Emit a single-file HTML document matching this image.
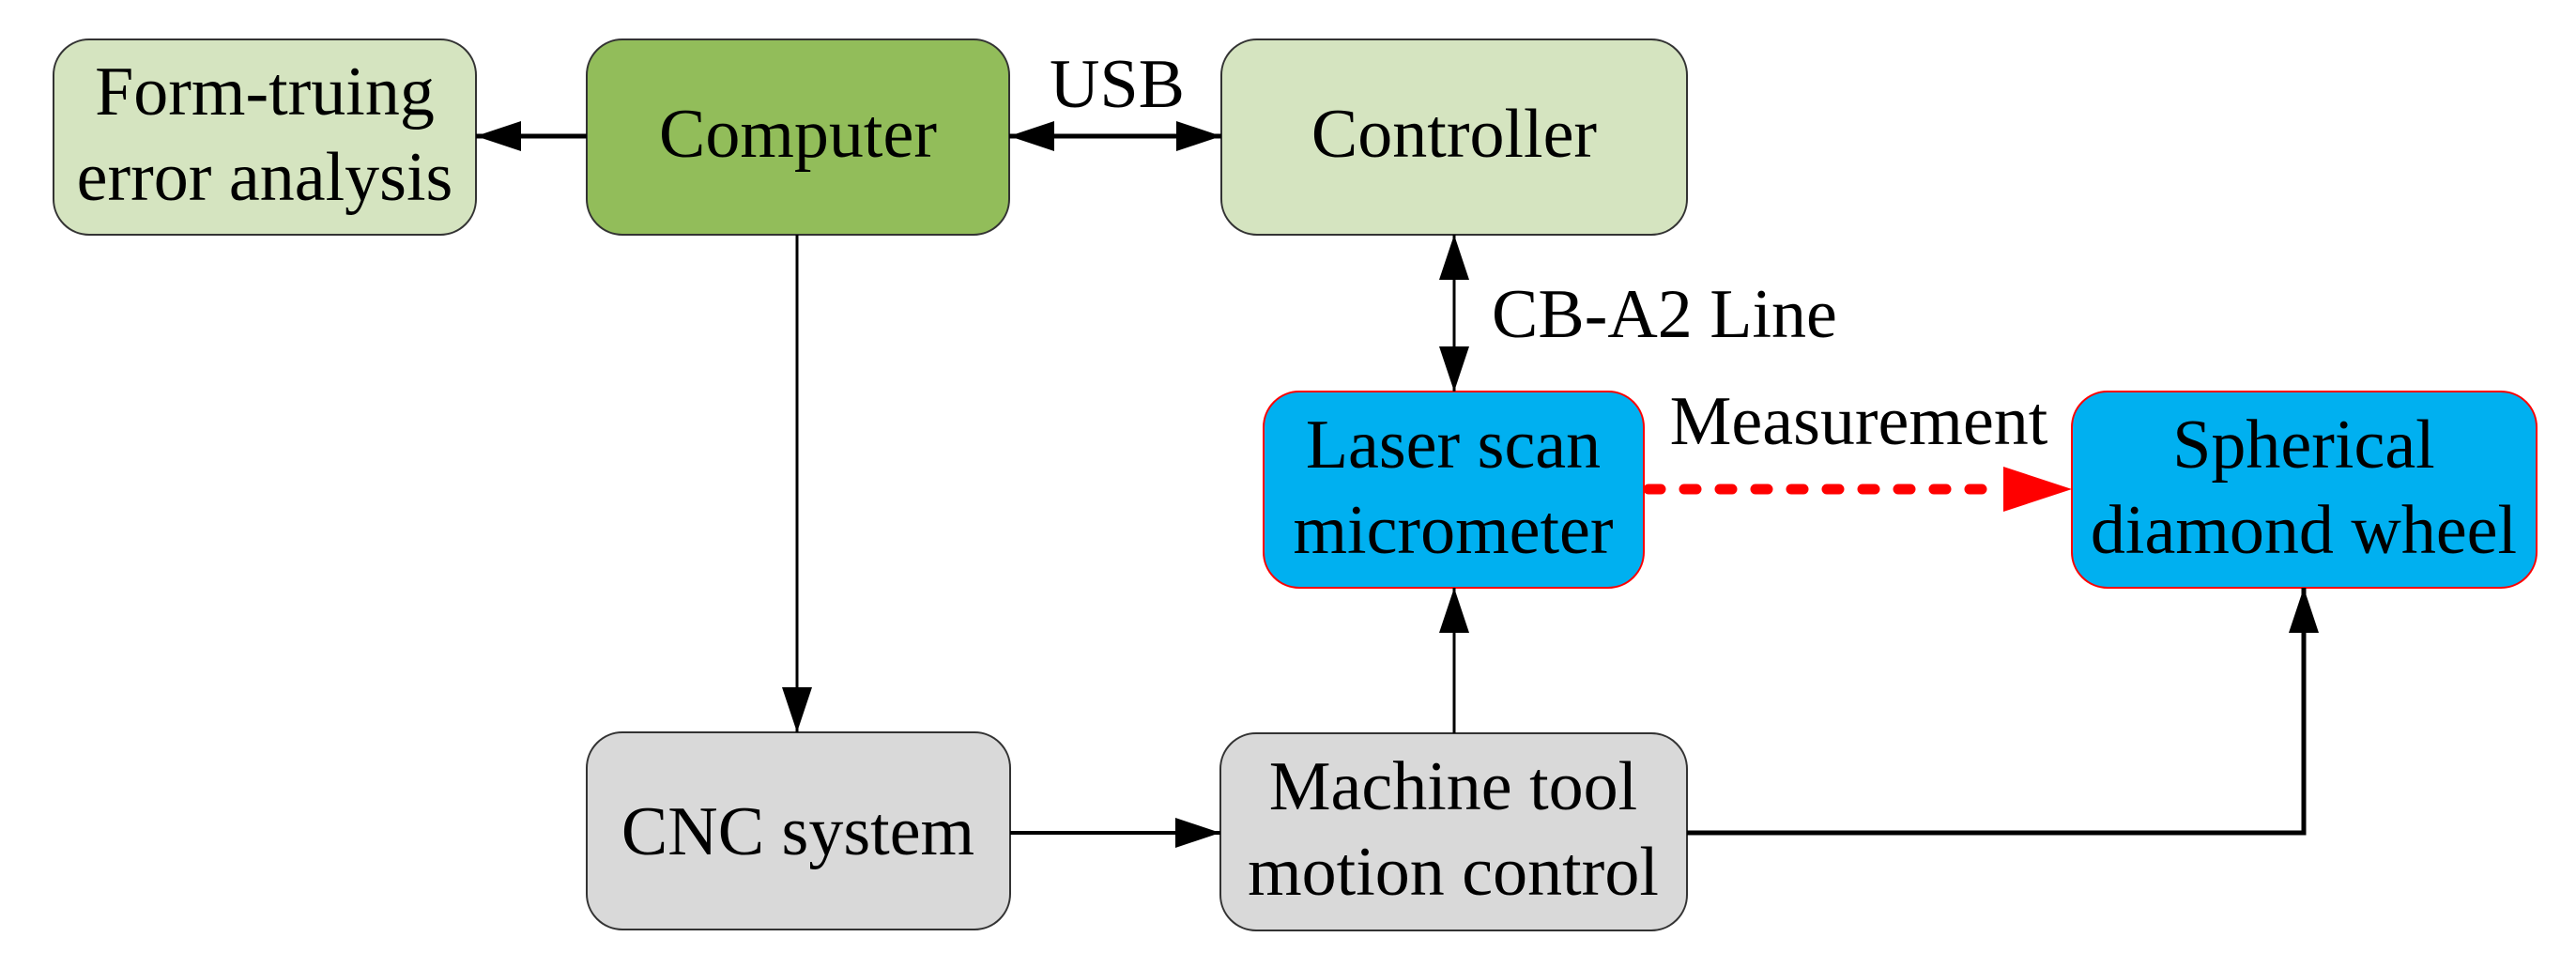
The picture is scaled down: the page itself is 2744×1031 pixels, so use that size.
<!DOCTYPE html>
<html><head><meta charset="utf-8"><style>
html,body{margin:0;padding:0;background:#fff;}
svg{display:block;}
text{font-family:"Liberation Serif",serif;font-size:74px;fill:#000;}
</style></head><body>
<svg width="2744" height="1031" viewBox="0 0 2744 1031" xmlns="http://www.w3.org/2000/svg">
<defs>
<marker id="ah" markerWidth="48" markerHeight="32" refX="48" refY="16" orient="auto" markerUnits="userSpaceOnUse">
<path d="M0,0 L48,16 L0,32 Z" fill="#000"/></marker>
<marker id="ahs" markerWidth="48" markerHeight="32" refX="0" refY="16" orient="auto" markerUnits="userSpaceOnUse">
<path d="M48,0 L0,16 L48,32 Z" fill="#000"/></marker>
</defs>
<g stroke="#333" stroke-width="2">
<rect x="57" y="42" width="450" height="208" rx="38" fill="#d5e4c0"/>
<rect x="625" y="42" width="450" height="208" rx="38" fill="#92bd5a"/>
<rect x="1301" y="42" width="496" height="208" rx="38" fill="#d5e4c0"/>
<rect x="625" y="780" width="451" height="210" rx="38" fill="#d9d9d9"/>
<rect x="1300" y="781" width="497" height="210" rx="38" fill="#d9d9d9"/>
</g>
<g stroke="#f00" stroke-width="2" fill="#00b0f0">
<rect x="1346" y="417" width="405" height="209" rx="38"/>
<rect x="2207" y="417" width="495" height="209" rx="38"/>
</g>
<g stroke="#000" fill="none">
<line x1="625" y1="145" x2="507" y2="145" stroke-width="5" marker-end="url(#ah)"/>
<line x1="1075" y1="145" x2="1301" y2="145" stroke-width="5" marker-start="url(#ahs)" marker-end="url(#ah)"/>
<line x1="1549" y1="250" x2="1549" y2="417" stroke-width="3" marker-start="url(#ahs)" marker-end="url(#ah)"/>
<line x1="849" y1="250" x2="849" y2="780" stroke-width="3" marker-end="url(#ah)"/>
<line x1="1076" y1="887" x2="1300" y2="887" stroke-width="4" marker-end="url(#ah)"/>
<line x1="1549" y1="781" x2="1549" y2="626" stroke-width="3" marker-end="url(#ah)"/>
<polyline points="1797,887 2454,887 2454,626" stroke-width="5" marker-end="url(#ah)"/>
</g>
<line x1="1756" y1="521" x2="2125" y2="521" stroke="#f00" stroke-width="11" stroke-linecap="round" stroke-dasharray="13 25"/>
<path d="M2134,497 L2207,521 L2134,545 Z" fill="#f00"/>
<g text-anchor="middle">
<text x="282" y="122">Form-truing</text>
<text x="282" y="213">error analysis</text>
<text x="850" y="167">Computer</text>
<text x="1549" y="167">Controller</text>
<text x="1190" y="114">USB</text>
<text x="1548" y="498">Laser scan</text>
<text x="1548" y="589">micrometer</text>
<text x="2454" y="498">Spherical</text>
<text x="2454" y="589">diamond wheel</text>
<text x="850" y="910">CNC system</text>
<text x="1548" y="862">Machine tool</text>
<text x="1548" y="953">motion control</text>
<text x="1980" y="473">Measurement</text>
</g>
<text x="1589" y="359">CB-A2 Line</text>
</svg>
</body></html>
